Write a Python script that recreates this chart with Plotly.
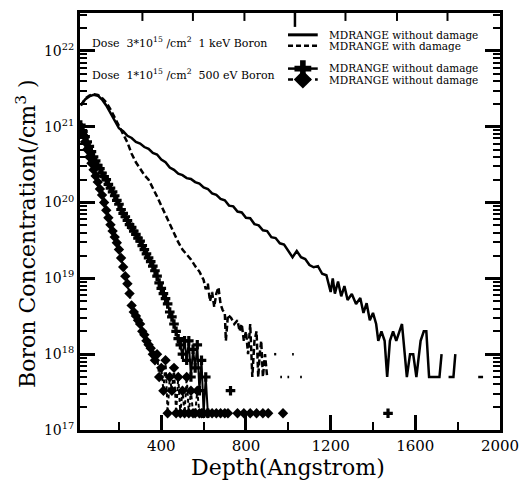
import plotly.graph_objects as go

# ---------------- data ----------------
# 1 keV Boron, dose 3e15 /cm^2, MDRANGE without damage (solid)
kev_nodmg_x = [20, 40, 60, 80, 100, 120, 140, 160, 180, 200, 220, 240, 260, 280, 300,
               320, 340, 360, 380, 400, 420, 440, 460, 480, 500, 520, 540, 560, 580, 600,
               620, 640, 660, 680, 700, 720, 740, 760, 780, 800, 820, 840, 860, 880, 900,
               920, 940, 960, 980, 1000, 1020, 1040, 1060, 1080, 1100, 1120, 1140, 1160,
               1180, 1200, 1210, 1220, 1235, 1250, 1265, 1280, 1300, 1320, 1340, 1355,
               1370, 1385, 1400, 1415, 1425, 1440, 1455, 1467, 1480, 1495, 1510, 1525,
               1537, 1550, 1560, 1575, 1590, 1605, 1625, 1640, 1652, 1665, 1686, 1714,
               1724, None, 1757, 1780, 1789, None, 1897, 1920]
kev_nodmg_y = [1.91e21, 2.29e21, 2.51e21, 2.63e21, 2.57e21, 2.29e21, 1.91e21, 1.51e21, 1.20e21,
               9.55e20, 8.7e20, 7.6e20, 7.1e20, 6.3e20, 6.0e20, 5.4e20, 5.1e20, 4.5e20, 4.3e20,
               3.7e20, 3.4e20, 2.9e20, 2.7e20, 2.4e20, 2.3e20, 2.1e20, 2.05e20, 1.86e20, 1.78e20,
               1.58e20, 1.51e20, 1.32e20, 1.26e20, 1.12e20, 1.07e20, 9.1e19, 8.9e19, 7.6e19,
               7.4e19, 6.3e19, 6.2e19, 5.2e19, 5.0e19, 4.3e19, 4.2e19, 3.5e19, 3.4e19, 2.9e19,
               2.8e19, 2.3e19, 1.9e19, 2.3e19, 1.9e19, 1.8e19, 1.5e19, 1.4e19, 1.45e19, 1.15e19,
               1.1e19, 6.6e18, 1.0e19, 6.3e18, 9.1e18, 5.8e18, 7.9e18, 5.2e18, 6.2e18, 4.6e18,
               5.5e18, 3.5e18, 4.7e18, 2.8e18, 3.5e18, 2.5e18, 1.5e18, 2.0e18, 1.5e18, 5e17,
               1.5e18, 2.0e18, 1.5e18, 2.0e18, 2.5e18, 1.0e18, 5e17, 1.0e18, 1.0e18, 5e17,
               1.5e18, 2.0e18, 2.0e18, 5e17, 5e17, 5e17, 1.0e18, None, 5e17, 5e17, 1.0e18,
               None, 5e17, 5e17]

# 1 keV Boron, MDRANGE with damage (dashed)
kev_dmg_x = [20, 40, 60, 80, 100, 120, 140, 160, 180, 200, 220, 240, 260, 280, 300, 320,
             340, 360, 380, 400, 420, 440, 460, 480, 500, 520, 540, 560, 580, 600, 610, 620,
             630, 640, 650, 660, 670, 680, 690, 700, 705, 715, 730, 745, 760, 770, 780, 790,
             800, 810, 820, 830, 840, 850, 858, 865, 872, 880, 890, 900, None, 933, 943,
             None, 962, 970, None, 996, 1004, None, 1018, 1026, None, 1056, 1064]
kev_dmg_y = [1.91e21, 2.34e21, 2.57e21, 2.69e21, 2.63e21, 2.4e21, 2.09e21, 1.7e21, 1.32e21,
             1.02e21, 7.9e20, 6.2e20, 4.4e20, 3.4e20, 2.8e20, 2.3e20, 2.0e20, 1.58e20, 1.2e20,
             9.1e19, 6.9e19, 5.1e19, 3.8e19, 3.0e19, 2.4e19, 2.1e19, 1.78e19, 1.45e19, 1.23e19,
             9.5e18, 7.2e18, 8.5e18, 5.0e18, 6.6e18, 4.2e18, 6.3e18, 7.6e18, 4.6e18, 3.8e18,
             3.5e18, 1.5e18, 3.3e18, 3.0e18, 2.5e18, 2.8e18, 2.0e18, 2.5e18, 1.5e18, 2.0e18,
             1.0e18, 2.5e18, 5e17, 1.5e18, 2.0e18, 5e17, 1.0e18, 1.5e18, 5e17, 1.0e18, 5e17,
             None, 1.0e18, 1.0e18, None, 5e17, 5e17, None, 5e17, 5e17, None, 1.0e18, 1.0e18,
             None, 5e17, 5e17]

# 500 eV Boron, dose 1e15 /cm^2, MDRANGE (cross markers)
ev_cross_x = [20, 30, 40, 50, 60, 70, 80, 90, 100, 110, 120, 130, 140, 150, 160, 170, 180,
              190, 200, 210, 220, 230, 240, 250, 260, 270, 280, 290, 300, 310, 320, 330, 340,
              350, 360, 370, 380, 390, 400, 410, 420, 430, 440, 450, 460, 470, 480, 490, 500,
              510, 520, 530, 540, 550, 560, 570, 580, 590, 600, 610, 620, None, 727, None, 1471]
ev_cross_y = [1.05e21, 8.7e20, 7.4e20, 6.3e20, 5.5e20, 4.7e20, 4.0e20, 3.55e20, 3.1e20, 2.8e20,
              2.45e20, 2.2e20, 2.0e20, 1.74e20, 1.55e20, 1.38e20, 1.23e20, 1.07e20, 9.5e19,
              8.1e19, 7.2e19, 6.5e19, 5.8e19, 5.1e19, 4.7e19, 4.2e19, 3.8e19, 3.4e19, 3.1e19,
              2.7e19, 2.4e19, 2.1e19, 1.86e19, 1.66e19, 1.45e19, 1.26e19, 1.07e19, 8.7e18,
              7.4e18, 6.3e18, 5.4e18, 4.6e18, 3.6e18, 3.1e18, 2.5e18, 2.0e18, 1.6e18, 1.33e18,
              1.0e18, 1.5e18, 8.3e17, 1.5e18, 5.0e17, 1.16e18, 6.6e17, 1.33e18, 3.3e17, 8.3e17,
              1.66e17, 5.0e17, 1.66e17, None, 3.3e17, None, 1.66e17]

# 500 eV Boron, MDRANGE (diamond markers)
ev_diam_x = [20, 30, 40, 50, 60, 70, 80, 90, 100, 110, 120, 130, 140, 150, 160, 170, 180,
             190, 200, 210, 220, 230, 240, 250, 260, 270, 280, 290, 300, 310, 320, 330, 340,
             350, 360, 370, 380, 390, 400, 410, 420, 430, 440, 450, 460, 470, 480, 490, 500,
             510, 520, 530, 540, 550, 560, 570, 580, 590, 600, 620, 640, 660, 680, 700, 715,
             None, 760, 790, 820, 850, 880, 905, None, 975]
ev_diam_y = [1.0e21, 7.9e20, 6.3e20, 5.0e20, 4.0e20, 3.3e20, 2.7e20, 2.24e20, 1.86e20, 1.51e20,
             1.26e20, 1.0e20, 7.9e19, 6.3e19, 5.1e19, 4.2e19, 3.5e19, 2.95e19, 2.4e19, 1.86e19,
             1.41e19, 1.07e19, 8.5e18, 6.3e18, 4.4e18, 3.6e18, 3.2e18, 2.8e18, 2.5e18, 2.0e18,
             1.8e18, 1.5e18, 1.33e18, 1.2e18, 1.0e18, 8.3e17, 1.0e18, 5.0e17, 6.6e17, 3.3e17,
             8.3e17, 1.66e17, 5.0e17, 3.3e17, 6.6e17, 1.66e17, 5.0e17, 1.66e17, 3.3e17,
             1.66e17, 5.0e17, 1.66e17, 3.3e17, 1.66e17, 1.66e17, 3.3e17, 1.66e17, 1.66e17,
             1.66e17, 1.66e17, 1.66e17, 1.66e17, 1.66e17, 1.66e17, 1.66e17, None, 1.66e17,
             1.66e17, 1.66e17, 1.66e17, 1.66e17, 1.66e17, None, 1.66e17]

x_major_ticks = [400, 800, 1200, 1600, 2000]
x_minor_ticks = [200, 600, 1000, 1400, 1800]
y_major_ticks = [1e17, 1e18, 1e19, 1e20, 1e21, 1e22]
y_major_text = ["10<sup>17</sup>", "10<sup>18</sup>", "10<sup>19</sup>", "10<sup>20</sup>",
                "10<sup>21</sup>", "10<sup>22</sup>"]

legend_rows = [
    "MDRANGE without damage",
    "MDRANGE with damage",
    "MDRANGE without damage",
    "MDRANGE without damage",
]
dose_labels = [
    "Dose  3*10<sup>15</sup> /cm<sup>2</sup>  1 keV Boron",
    "Dose  1*10<sup>15</sup> /cm<sup>2</sup>  500 eV Boron",
]

# ---------------- layout constants ----------------
W, H = 529, 485
L, R, T, B = 80, 25, 10, 55
PW, PH = W - L - R, H - T - B
X0, X1 = 16, 2000
Y0, Y1 = 17, 22.5
FONT = "DejaVu Serif"
INK = "#000000"


def px(xp):  # pixel column -> paper x
    return (xp - L) / PW


def py(yp):  # pixel row -> paper y
    return (H - B - yp) / PH


def dx(xp):  # pixel column -> x-axis value (for legend glyphs / frame decorations)
    return X0 + (xp - L) * (X1 - X0) / PW


def dy(yp):  # pixel row -> y-axis value (log axis)
    return 10 ** (Y0 + (H - B - yp) * (Y1 - Y0) / PH)


fig = go.Figure()
fig.add_trace(go.Scatter(x=kev_nodmg_x, y=kev_nodmg_y, mode="lines",
                         line=dict(color=INK, width=2.5), connectgaps=False))
fig.add_trace(go.Scatter(x=kev_dmg_x, y=kev_dmg_y, mode="lines",
                         line=dict(color=INK, width=2.5, dash="6px,3px"), connectgaps=False))
fig.add_trace(go.Scatter(x=ev_cross_x, y=ev_cross_y, mode="lines+markers",
                         line=dict(color=INK, width=2),
                         marker=dict(symbol="cross", size=8, color=INK), connectgaps=False))
fig.add_trace(go.Scatter(x=ev_diam_x, y=ev_diam_y, mode="lines+markers",
                         line=dict(color=INK, width=2, dash="4px,3px"),
                         marker=dict(symbol="diamond", size=8, color=INK), connectgaps=False))

# ---- legend glyphs (drawn as small traces placed in the legend box) ----
glyph_x = [dx(290), dx(320)]
fig.add_trace(go.Scatter(x=glyph_x, y=[dy(32)] * 2, mode="lines",
                         line=dict(color=INK, width=3), cliponaxis=False))
fig.add_trace(go.Scatter(x=glyph_x, y=[dy(43)] * 2, mode="lines",
                         line=dict(color=INK, width=2.5, dash="5px,3px"), cliponaxis=False))
fig.add_trace(go.Scatter(x=glyph_x, y=[dy(66)] * 2, mode="lines",
                         line=dict(color=INK, width=2.5), cliponaxis=False))
fig.add_trace(go.Scatter(x=glyph_x, y=[dy(77)] * 2, mode="lines",
                         line=dict(color=INK, width=2.5, dash="5px,4px"), cliponaxis=False))
fig.add_trace(go.Scatter(x=[dx(305)], y=[dy(66)], mode="markers",
                         marker=dict(symbol="cross", size=14, color=INK), cliponaxis=False))
fig.add_trace(go.Scatter(x=[dx(305)], y=[dy(77)], mode="markers",
                         marker=dict(symbol="diamond", size=14, color=INK), cliponaxis=False))

# ---- the frame's top edge carries its own tick pattern ----
top_tx, top_ty = [], []
for tx in [143, 194, 246, 348, 400, 451]:
    top_tx += [dx(tx), dx(tx), None]
    top_ty += [dy(10), dy(18), None]
fig.add_trace(go.Scatter(x=top_tx, y=top_ty, mode="lines",
                         line=dict(color=INK, width=2), cliponaxis=False))
fig.add_trace(go.Scatter(x=[dx(297), dx(297)], y=[dy(10), dy(24)], mode="lines",
                         line=dict(color=INK, width=2.5), cliponaxis=False))

annotations = []
for txt, yy in zip(legend_rows, [32, 43, 65, 77]):
    annotations.append(dict(x=px(329), y=py(yy), xref="paper", yref="paper", text=txt,
                            showarrow=False, xanchor="left", yanchor="middle",
                            font=dict(family=FONT, size=10.5, color=INK)))
for txt, yy in zip(dose_labels, [40, 72]):
    annotations.append(dict(x=px(90), y=py(yy), xref="paper", yref="paper", text=txt,
                            showarrow=False, xanchor="left", yanchor="middle",
                            font=dict(family=FONT, size=11, color=INK)))
annotations.append(dict(x=px(290), y=py(468), xref="paper", yref="paper",
                        text="Depth(Angstrom)", showarrow=False,
                        xanchor="center", yanchor="middle",
                        font=dict(family=FONT, size=22, color=INK)))
annotations.append(dict(x=px(26), y=py(233), xref="paper", yref="paper",
                        text="Boron Concentration(/cm<sup>3</sup> )", textangle=-90,
                        showarrow=False, xanchor="center", yanchor="middle",
                        font=dict(family=FONT, size=22, color=INK)))

fig.update_layout(width=W, height=H, margin=dict(l=L, r=R, t=T, b=B),
                  plot_bgcolor="white", paper_bgcolor="white", showlegend=False,
                  annotations=annotations)
fig.update_xaxes(range=[X0, X1], tickvals=x_major_ticks,
                 ticks="inside", ticklen=15, tickwidth=2.5, tickcolor=INK,
                 showline=True, linewidth=3, linecolor=INK, mirror=True,
                 showgrid=False, zeroline=False,
                 tickfont=dict(family=FONT, size=15, color=INK),
                 minor=dict(tickvals=x_minor_ticks, ticks="inside",
                            ticklen=8, tickwidth=2, tickcolor=INK))
fig.update_yaxes(type="log", range=[Y0, Y1], tickvals=y_major_ticks,
                 ticktext=y_major_text, ticks="inside", ticklen=15, tickwidth=2.5,
                 tickcolor=INK, showline=True, linewidth=3, linecolor=INK,
                 mirror="ticks", showgrid=False, zeroline=False,
                 tickfont=dict(family=FONT, size=14, color=INK),
                 minor=dict(ticks="inside", dtick="D1", ticklen=7, tickwidth=1.5,
                            tickcolor=INK))

fig.write_html("out.html")
